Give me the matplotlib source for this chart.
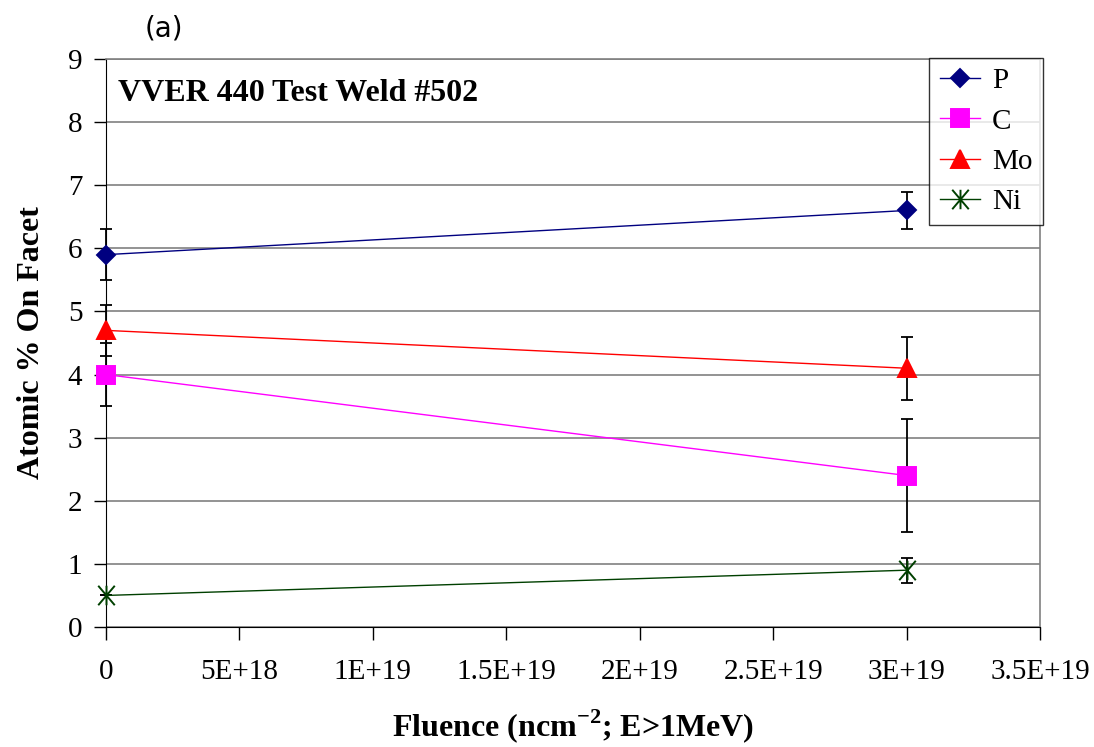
import matplotlib.pyplot as plt
from matplotlib.path import Path

# fluence (n/cm^2, E>1MeV) and atomic % on facet
fluence = [0.0, 3e19]
p_vals = [5.9, 6.6]
p_err = [0.4, 0.3]
c_vals = [4.0, 2.4]
c_err = [0.5, 0.9]
mo_vals = [4.7, 4.1]
mo_err = [0.4, 0.5]
ni_vals = [0.5, 0.9]
ni_err = [0.0, 0.2]

xticks = [0, 5e18, 1e19, 1.5e19, 2e19, 2.5e19, 3e19, 3.5e19]
xtick_labels = ["0", "5E+18", "1E+19", "1.5E+19", "2E+19", "2.5E+19", "3E+19", "3.5E+19"]

plt.rcParams['font.family'] = ['Liberation Serif']
plt.rcParams['mathtext.fontset'] = 'custom'
plt.rcParams['mathtext.rm'] = 'Liberation Serif'
plt.rcParams['mathtext.bf'] = 'Liberation Serif:bold'

# asterisk marker: vertical stroke plus a cross
star = Path([(0, -1), (0, 1), (-0.85, -1), (0.85, 1), (-0.85, 1), (0.85, -1)],
            [Path.MOVETO, Path.LINETO, Path.MOVETO, Path.LINETO, Path.MOVETO, Path.LINETO])

fig = plt.figure(figsize=(10.94, 7.47), dpi=100)
ax = fig.add_axes([106 / 1094, 1 - 627 / 747, (1040 - 106) / 1094, (627 - 59) / 747])

series = [
    ("P", p_vals, p_err, "#000080", "D", 9.5),
    ("C", c_vals, c_err, "#ff00ff", "s", 13),
    ("Mo", mo_vals, mo_err, "#ff0000", "^", 13),
    ("Ni", ni_vals, ni_err, "#004000", star, 14),
]

for name, vals, err, col, mk, ms in series:
    ax.errorbar(fluence, vals, yerr=err, fmt="none", ecolor="black",
                elinewidth=1.3, capsize=4.5, capthick=1.3, zorder=3, clip_on=False)
    face = "none" if mk is star else col
    ax.plot(fluence, vals, color=col, lw=1, marker=mk, markersize=ms,
            markerfacecolor=face, markeredgecolor=col, markeredgewidth=1.4,
            label=name, zorder=4, clip_on=False)

ax.set_xlim(0, 3.5e19)
ax.set_ylim(0, 9)
ax.set_yticks(range(0, 10))
ax.set_xticks(xticks)
ax.set_xticklabels(xtick_labels)
ax.grid(axis="y", color="#808080", lw=1.2)
ax.set_axisbelow(True)

for side in ["top", "right"]:
    ax.spines[side].set_color("#808080")
    ax.spines[side].set_linewidth(1.2)
ax.spines["left"].set_color("black")
ax.spines["bottom"].set_color("black")
ax.tick_params(direction="out", length=9, width=1, labelsize=21, pad=8)
ax.tick_params(axis="x", pad=14)

ax.set_xlabel(r"Fluence (ncm$^{\mathbf{-2}}$; E>1MeV)", fontsize=23, fontweight="bold", labelpad=16)
ax.set_ylabel("Atomic % On Facet", fontsize=23, fontweight="bold", labelpad=16)

ax.text(0.013, 0.94, "VVER 440 Test Weld #502", transform=ax.transAxes,
        fontsize=23, fontweight="bold", va="center", ha="left")
fig.text(145 / 1094, 1 - 28 / 747, "(a)", family="DejaVu Sans", fontsize=20,
         ha="left", va="center")

leg = ax.legend(loc="upper right", bbox_to_anchor=(1.003, 1.002),
                fontsize=21, frameon=True, fancybox=False, edgecolor="black",
                borderpad=0.35, labelspacing=0.47, handlelength=1.4, handletextpad=0.4,
                borderaxespad=0)
leg.get_frame().set_linewidth(1.0)

fig.savefig("out.png", dpi=100)
